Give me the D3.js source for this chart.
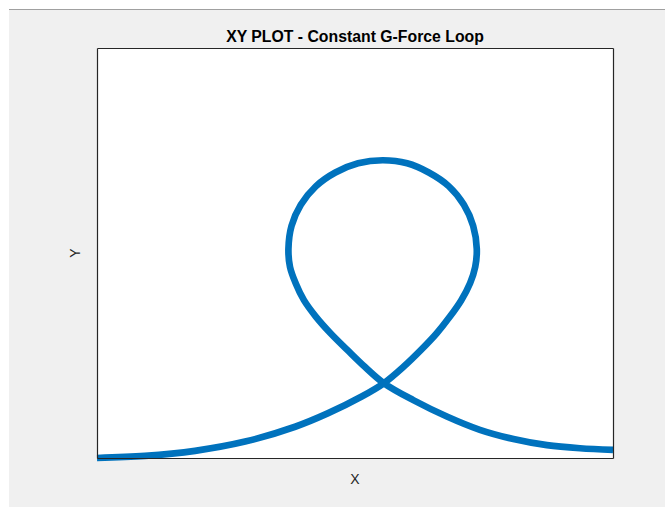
<!DOCTYPE html>
<html>
<head>
<meta charset="utf-8">
<script src="https://cdn.jsdelivr.net/npm/d3@7"></script>
<style>
  html, body { margin: 0; padding: 0; background: #ffffff; }
  svg { display: block; }
</style>
</head>
<body>
<svg id="fig" width="665" height="507"></svg>
<script>
// Flight path of a constant g-force loop (horizontal distance vs altitude)
const pathX = [0, 93, 190, 287, 384, 447, 513, 556, 594, 628, 658, 684, 706, 723, 733, 736,
               729, 711, 682, 643, 601, 554, 506, 462, 424, 395, 377, 371,
               374, 385, 401, 424, 453, 485, 519, 556,
               613, 678, 742, 807, 872, 936, 1000];
const pathY = [0, 4, 14, 32, 61, 87, 120, 146, 178, 211, 243, 276, 308, 341, 373, 408,
               453, 494, 530, 557, 575, 581, 575, 557, 530, 494, 453, 408,
               373, 341, 308, 276, 243, 211, 178, 146,
               113, 81, 55, 37, 25, 19, 16];
const xLimits = [0, 1000];
const yLimits = [0, 800];

const titleText = "XY PLOT - Constant G-Force Loop";
const xLabelText = "X";
const yLabelText = "Y";

const svg = d3.select("#fig");

// figure panel
svg.append("rect").attr("x", 9).attr("y", 9).attr("width", 656).attr("height", 498)
  .attr("fill", "#f0f0f0");
svg.append("line").attr("x1", 9).attr("x2", 665).attr("y1", 9.5).attr("y2", 9.5)
  .attr("stroke", "#a0a0a0").attr("stroke-width", 1);

const plot = { left: 97, top: 48, right: 613, bottom: 458 };

const x = d3.scaleLinear().domain(xLimits).range([plot.left, plot.right]);
const y = d3.scaleLinear().domain(yLimits).range([plot.bottom, plot.top]);

// axes background
svg.append("rect")
  .attr("x", plot.left).attr("y", plot.top)
  .attr("width", plot.right - plot.left).attr("height", plot.bottom - plot.top)
  .attr("fill", "#ffffff");

// trajectory
const pts = pathX.map((v, i) => [v, pathY[i]]);
const line = d3.line().x(d => x(d[0])).y(d => y(d[1])).curve(d3.curveCatmullRom.alpha(0.5));
svg.append("path").datum(pts)
  .attr("d", line)
  .attr("fill", "none")
  .attr("stroke", "#0072BD")
  .attr("stroke-width", 6.7)
  .attr("stroke-linejoin", "round");

// box with no ticks
const axisColor = "#262626";
const bottomAxis = d3.axisBottom(x).tickValues([]).tickSizeOuter(0);
const leftAxis = d3.axisLeft(y).tickValues([]).tickSizeOuter(0);
const topAxis = d3.axisTop(x).tickValues([]).tickSizeOuter(0);
const rightAxis = d3.axisRight(y).tickValues([]).tickSizeOuter(0);
[[bottomAxis, `translate(0,${plot.bottom})`], [leftAxis, `translate(${plot.left},0)`],
 [topAxis, `translate(0,${plot.top})`], [rightAxis, `translate(${plot.right},0)`]]
  .forEach(([ax, tr]) => {
    const g = svg.append("g").attr("transform", tr).call(ax);
    g.select(".domain").attr("stroke", axisColor).attr("stroke-width", 1.2);
  });

// title and labels
svg.append("text")
  .attr("x", (plot.left + plot.right) / 2).attr("y", 42)
  .attr("text-anchor", "middle")
  .attr("font-family", "Liberation Sans, Arial, sans-serif")
  .attr("font-weight", "bold").attr("font-size", 15.8)
  .attr("fill", "#000000")
  .text(titleText);

svg.append("text")
  .attr("x", (plot.left + plot.right) / 2).attr("y", 484)
  .attr("text-anchor", "middle")
  .attr("font-family", "Liberation Sans, Arial, sans-serif")
  .attr("font-size", 14).attr("fill", axisColor)
  .text(xLabelText);

svg.append("text")
  .attr("transform", `translate(80,${(plot.top + plot.bottom) / 2}) rotate(-90)`)
  .attr("text-anchor", "middle")
  .attr("font-family", "Liberation Sans, Arial, sans-serif")
  .attr("font-size", 14).attr("fill", axisColor)
  .text(yLabelText);
</script>
</body>
</html>
